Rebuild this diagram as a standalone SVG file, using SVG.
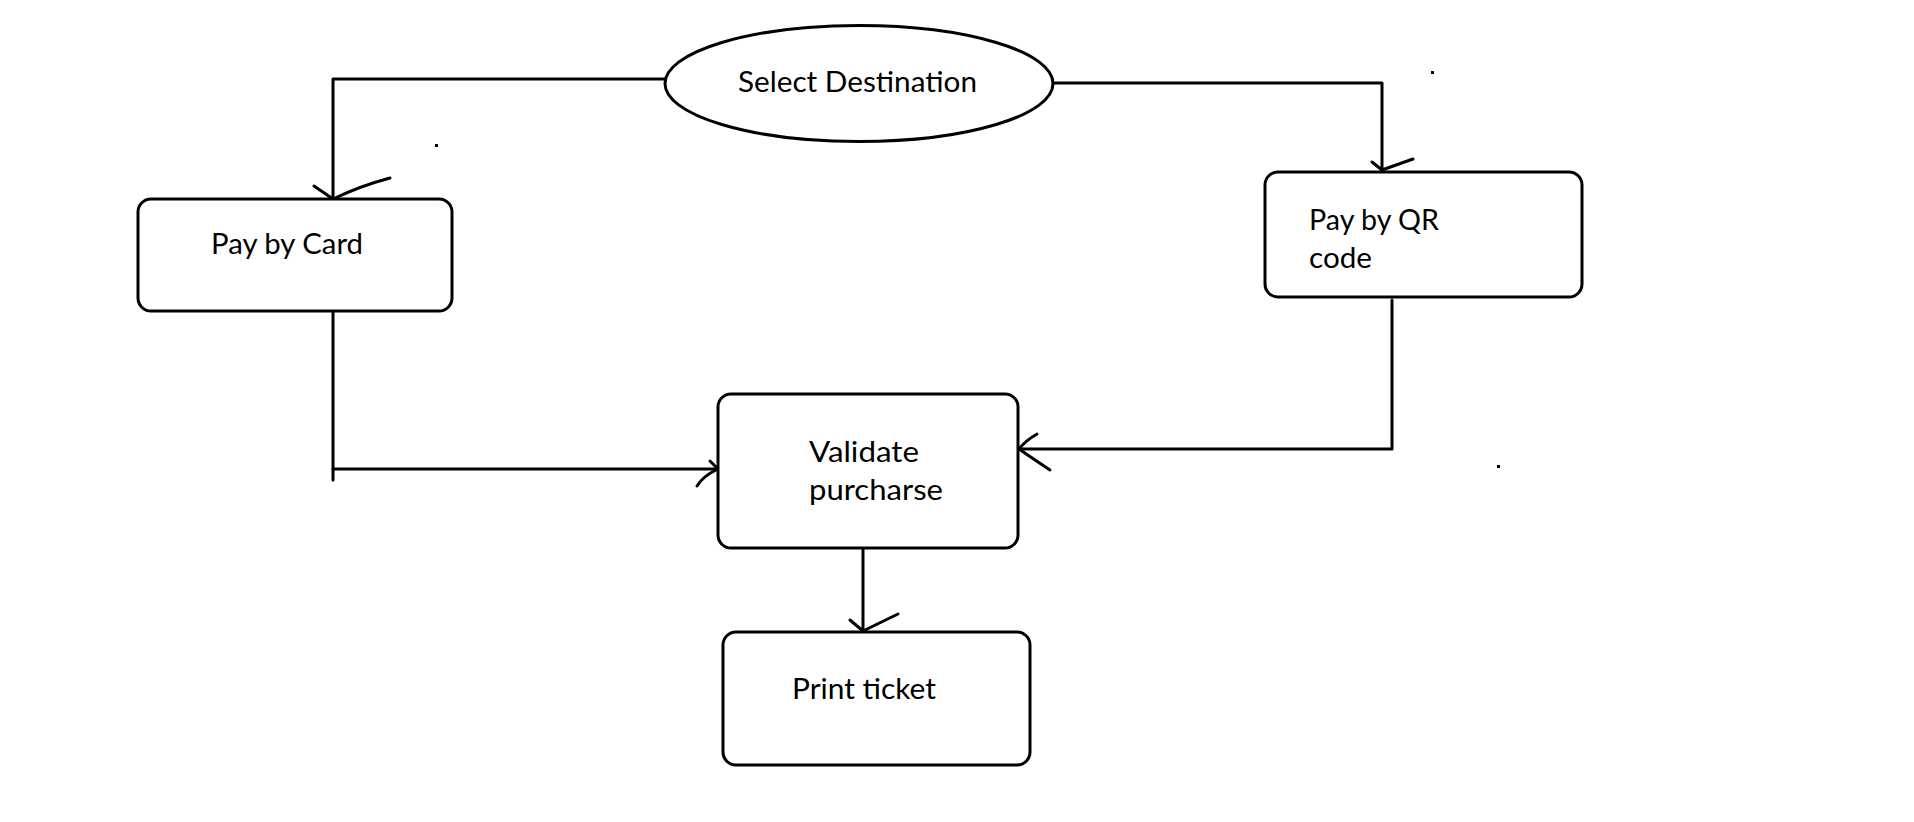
<svg xmlns="http://www.w3.org/2000/svg" width="1914" height="822" viewBox="0 0 1914 822">
<style>
.shape{fill:#fff;stroke:#000;stroke-width:3}
.edge{fill:none;stroke:#000;stroke-width:3;stroke-linecap:round;stroke-linejoin:round}
.lbl{font-family:Lato,"Open Sans","Liberation Sans",sans-serif;font-size:29px;fill:#000}
</style>
<rect width="1914" height="822" fill="#fff"/>
<g id="connectors">
<path class="edge" d="M665 79 H333 V199"/>
<path class="edge" d="M314 186 L333 199 Q360 186 390 178"/>
<path class="edge" d="M1053 83 H1382 V171"/>
<path class="edge" d="M1372 162 L1382 170 L1413 159"/>
<path class="edge" d="M1392 300 V449 H1019"/>
<path class="edge" d="M1037 434 Q1025 441 1019 449 Q1032 458 1050 470"/>
<path class="edge" d="M333 311 V480"/>
<path class="edge" d="M333 469 H718"/>
<path class="edge" d="M710 461 L718 469 Q703 476 697 486"/>
<path class="edge" d="M863 548 V632"/>
<path class="edge" d="M850 620 L863 631 L898 614"/>
<rect x="435" y="144" width="3" height="3" fill="#000"/>
<rect x="1431" y="71" width="3" height="3" fill="#000"/>
<rect x="1497" y="465" width="3" height="3" fill="#000"/>
</g>
<g id="select-destination">
<ellipse class="shape" cx="859" cy="83.5" rx="194" ry="58"/>
<text class="lbl" x="738" y="92" textLength="239" lengthAdjust="spacingAndGlyphs">Select Destination</text>
</g>
<g id="pay-by-card">
<rect class="shape" x="138" y="199" width="314" height="112" rx="13"/>
<text class="lbl" x="211" y="254" textLength="152" lengthAdjust="spacingAndGlyphs">Pay by Card</text>
</g>
<g id="pay-by-qr">
<rect class="shape" x="1265" y="172" width="317" height="125" rx="13"/>
<text class="lbl" x="1309" y="230" textLength="130" lengthAdjust="spacingAndGlyphs">Pay by QR</text>
<text class="lbl" x="1309" y="268" textLength="63" lengthAdjust="spacingAndGlyphs">code</text>
</g>
<g id="validate-purchase">
<rect class="shape" x="718" y="394" width="300" height="154" rx="13"/>
<text class="lbl" x="809" y="462" textLength="110" lengthAdjust="spacingAndGlyphs">Validate</text>
<text class="lbl" x="809" y="500" textLength="134" lengthAdjust="spacingAndGlyphs">purcharse</text>
</g>
<g id="print-ticket">
<rect class="shape" x="723" y="632" width="307" height="133" rx="13"/>
<text class="lbl" x="792" y="699" textLength="144" lengthAdjust="spacingAndGlyphs">Print ticket</text>
</g>
</svg>
